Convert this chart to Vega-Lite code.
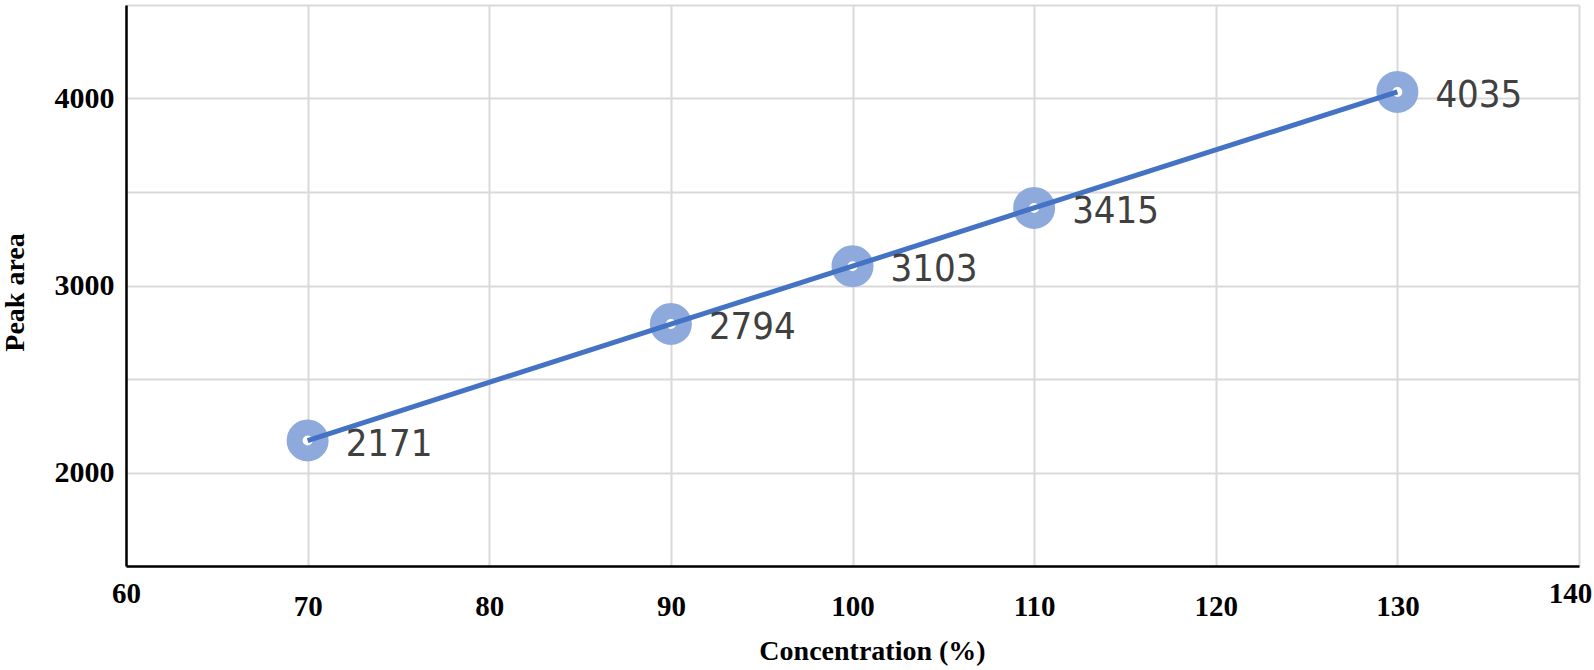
{
  "$schema": "https://vega.github.io/schema/vega-lite/v6.json",
  "width": 1453,
  "height": 561,
  "autosize": {"type": "none"},
  "padding": {"left": 126, "top": 5, "right": 15, "bottom": 104},
  "background": "white",
  "config": {"view": {"stroke": null}},
  "data": {
    "values": [
      {"conc": 70, "area": 2171},
      {"conc": 90, "area": 2794},
      {"conc": 100, "area": 3103},
      {"conc": 110, "area": 3415},
      {"conc": 130, "area": 4035}
    ]
  },
  "encoding": {
    "x": {
      "field": "conc",
      "type": "quantitative",
      "scale": {"domain": [60, 140], "nice": false, "zero": false},
      "axis": {
        "values": [60, 70, 80, 90, 100, 110, 120, 130, 140],
        "grid": true,
        "gridColor": "#d9d9d9",
        "gridWidth": 2,
        "domainColor": "#000000",
        "domainWidth": 2.5,
        "ticks": false,
        "tickSize": 0,
        "labelFont": "Liberation Serif",
        "labelFontWeight": "bold",
        "labelFontSize": 29,
        "labelColor": "#000000",
        "labelBaseline": "middle",
        "labelPadding": {"condition": {"test": "datum.value == 60 || datum.value == 140", "value": 27}, "value": 40},
        "labelOffset": {"condition": {"test": "datum.value == 140", "value": -9}, "value": 0},
        "labelFlush": false,
        "labelOverlap": false,
        "title": "Concentration (%)",
        "titleFont": "Liberation Serif",
        "titleFontWeight": "bold",
        "titleFontSize": 28,
        "titleColor": "#000000",
        "titleX": 746,
        "titleY": 85,
        "titleBaseline": "middle",
        "titleAlign": "center"
      }
    },
    "y": {
      "field": "area",
      "type": "quantitative",
      "scale": {"domain": [1500, 4500], "nice": false, "zero": false},
      "axis": {
        "values": [1500, 2000, 2500, 3000, 3500, 4000, 4500],
        "format": "d",
        "labelExpr": "datum.value % 1000 == 0 ? datum.label : ''",
        "grid": true,
        "gridColor": "#d9d9d9",
        "gridWidth": 2,
        "domainColor": "#000000",
        "domainWidth": 2.5,
        "ticks": false,
        "tickSize": 0,
        "labelFont": "Liberation Serif",
        "labelFontWeight": "bold",
        "labelFontSize": 30,
        "labelColor": "#000000",
        "labelBaseline": "middle",
        "labelPadding": 12,
        "labelOverlap": false,
        "title": "Peak area",
        "titleFont": "Liberation Serif",
        "titleFontWeight": "bold",
        "titleFontSize": 28,
        "titleColor": "#000000",
        "titleAngle": -90,
        "titleX": -111,
        "titleY": 287,
        "titleBaseline": "middle",
        "titleAlign": "center"
      }
    }
  },
  "layer": [
    {
      "mark": {"type": "point", "shape": "circle", "filled": false, "fill": "white", "stroke": "#8eaadc", "strokeWidth": 16, "size": 676, "opacity": 1}
    },
    {
      "mark": {"type": "line", "color": "#4472c4", "strokeWidth": 5}
    },
    {
      "mark": {"type": "text", "font": "DejaVu Sans Condensed, Roboto, sans-serif", "fontSize": 38, "color": "#404040", "align": "left", "baseline": "middle", "dx": 38, "dy": 4},
      "encoding": {"text": {"field": "area", "type": "quantitative", "format": "d"}}
    }
  ]
}
